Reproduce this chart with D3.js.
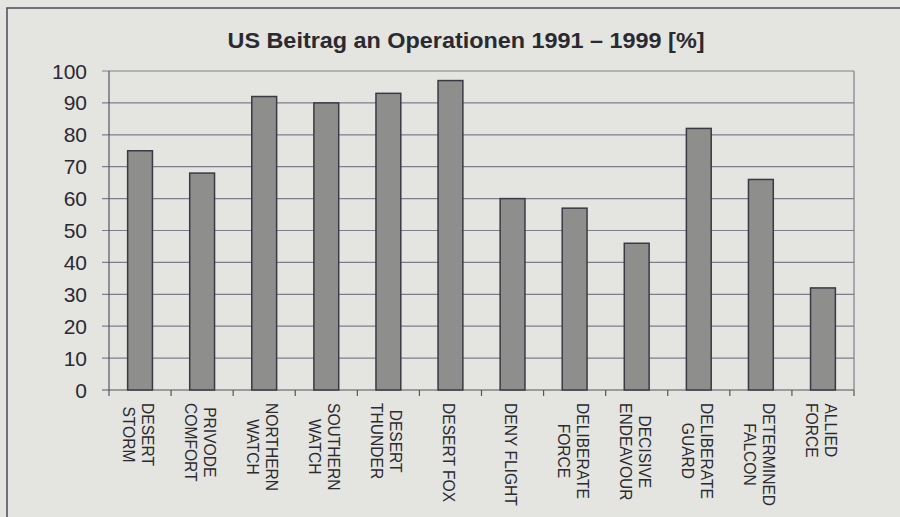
<!DOCTYPE html>
<html>
<head>
<meta charset="utf-8">
<script src="https://cdn.jsdelivr.net/npm/d3@7"></script>
<style>
  html, body { margin: 0; padding: 0; background: #e4e4e0; }
  svg { display: block; }
  .label { font-family: 'Liberation Sans', Arial, sans-serif; fill: #2a2a30; }
</style>
</head>
<body>
<div id="chart"></div>
<script>
// chart data
const operations = [
  ['DESERT', 'STORM'], ['PRIVODE', 'COMFORT'], ['NORTHERN', 'WATCH'], ['SOUTHERN', 'WATCH'],
  ['DESERT', 'THUNDER'], ['DESERT FOX'], ['DENY FLIGHT'], ['DELIBERATE', 'FORCE'],
  ['DECISIVE', 'ENDEAVOUR'], ['DELIBERATE', 'GUARD'], ['DETERMINED', 'FALCON'], ['ALLIED', 'FORCE']
];
const usShare = [75, 68, 92, 90, 93, 97, 60, 57, 46, 82, 66, 32];
const yTicks = [0, 10, 20, 30, 40, 50, 60, 70, 80, 90, 100];
const title = 'US Beitrag an Operationen 1991 – 1999 [%]';

const width = 900, height = 517;
const plot = {left: 109, right: 854, top: 71, bottom: 390};

const svg = d3.select('#chart').append('svg')
  .attr('width', width)
  .attr('height', height);

svg.append('rect')
  .attr('width', width).attr('height', height)
  .attr('fill', '#e4e4e0');

// outer frame (top and left edge visible in scan)
svg.append('path')
  .attr('d', `M7,${height} L7,8 L${width},8`)
  .attr('fill', 'none')
  .attr('stroke', '#4a4a55')
  .attr('stroke-width', 1.5);

const keys = operations.map(d => d.join(' '));

const x = d3.scaleBand()
  .domain(keys)
  .range([plot.left, plot.right])
  .paddingInner(0.6)
  .paddingOuter(0.3);

const y = d3.scaleLinear()
  .domain([0, 100])
  .range([plot.bottom, plot.top]);

// gridlines
svg.append('g')
  .selectAll('line')
  .data(yTicks)
  .join('line')
  .attr('x1', plot.left - 7)
  .attr('x2', plot.right)
  .attr('y1', d => y(d))
  .attr('y2', d => y(d))
  .attr('stroke', d => d === 0 ? '#55555f' : '#7e7e8c')
  .attr('stroke-width', 1.2);

// plot frame: left axis and right border
svg.append('line')
  .attr('x1', plot.left).attr('x2', plot.left)
  .attr('y1', plot.top).attr('y2', plot.bottom)
  .attr('stroke', '#55555f').attr('stroke-width', 1.2);
svg.append('line')
  .attr('x1', plot.right).attr('x2', plot.right)
  .attr('y1', plot.top).attr('y2', plot.bottom)
  .attr('stroke', '#7e7e8c').attr('stroke-width', 1.2);

// x ticks at category boundaries
const step = x.step();
const x0 = plot.left;
svg.append('g')
  .selectAll('line')
  .data(d3.range(keys.length + 1))
  .join('line')
  .attr('x1', i => x0 + i * step)
  .attr('x2', i => x0 + i * step)
  .attr('y1', plot.bottom)
  .attr('y2', plot.bottom + 6)
  .attr('stroke', '#55555f')
  .attr('stroke-width', 1.2);

// bars
svg.append('g')
  .selectAll('rect')
  .data(usShare)
  .join('rect')
  .attr('x', (d, i) => x(keys[i]))
  .attr('y', d => y(d))
  .attr('width', x.bandwidth())
  .attr('height', d => y(0) - y(d))
  .attr('fill', '#8e8e8c')
  .attr('stroke', '#3a3a44')
  .attr('stroke-width', 1.5);

// y tick labels
svg.append('g')
  .selectAll('text')
  .data(yTicks)
  .join('text')
  .attr('class', 'label')
  .attr('x', 87)
  .attr('y', d => y(d))
  .attr('dy', '0.36em')
  .attr('text-anchor', 'end')
  .style('font-size', '21px')
  .text(d => d);

// x labels, rotated, lines centred within block
const xLabels = svg.append('g')
  .selectAll('g')
  .data(operations)
  .join('g')
  .attr('transform', (d, i) => {
    const cx = x(keys[i]) + x.bandwidth() / 2 - 2;
    const off = (d.length - 1) * 9.5;
    return `translate(${cx + off},403) rotate(90)`;
  });

xLabels.each(function(lines) {
  const g = d3.select(this);
  const texts = g.selectAll('text')
    .data(lines)
    .join('text')
    .attr('class', 'label')
    .style('font-size', '15.6px')
    .attr('y', (d, j) => j * 19)
    .attr('dy', '0.36em')
    .attr('text-anchor', 'middle')
    .text(d => d);
  let maxLen = 0;
  texts.each(function() { maxLen = Math.max(maxLen, this.getComputedTextLength()); });
  texts.attr('x', maxLen / 2);
});

// title
svg.append('text')
  .attr('class', 'label')
  .attr('x', 466)
  .attr('y', 48)
  .attr('text-anchor', 'middle')
  .attr('textLength', 477)
  .attr('lengthAdjust', 'spacingAndGlyphs')
  .style('font-size', '22px')
  .style('font-weight', 'bold')
  .text(title);
</script>
</body>
</html>
